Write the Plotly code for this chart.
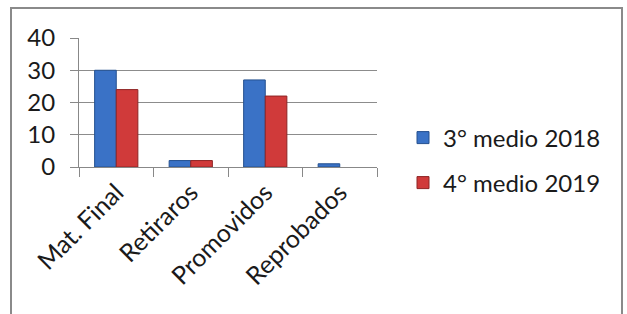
import plotly.graph_objects as go

categories = ["Mat. Final", "Retiraros", "Promovidos", "Reprobados"]
serie_2018 = [30, 2, 27, 1]
serie_2019 = [24, 2, 22, 0]
series_names = ["3° medio 2018", "4° medio 2019"]
y_ticks = [0, 10, 20, 30, 40]

W, H = 627, 314
ml, mr, mt, mb = 79, 250, 38, 147
pw, ph = W - ml - mr, H - mt - mb

def px_x(p):
    return (p - ml) / pw

def px_y(p):
    return (H - mb - p) / ph

FONT = "Lato, 'Open Sans', sans-serif"

def edge_widths(vals):
    return [1 if v > 0 else 0 for v in vals]

fig = go.Figure()
fig.add_trace(go.Bar(
    x=categories, y=serie_2018, name=series_names[0],
    marker=dict(color="#3A72C6", line=dict(color="#24508F", width=edge_widths(serie_2018))),
    legend="legend", showlegend=True,
))
fig.add_trace(go.Bar(
    x=categories, y=serie_2019, name=series_names[1],
    marker=dict(color="#D03A3A", line=dict(color="#8E2424", width=edge_widths(serie_2019))),
    legend="legend2", showlegend=True,
))

fig.update_layout(
    width=W, height=H,
    margin=dict(l=ml, r=mr, t=mt, b=mb, autoexpand=False),
    paper_bgcolor="white", plot_bgcolor="white",
    barmode="group", bargap=0.42, bargroupgap=0,
    font=dict(family=FONT, size=22, color="#1a1a1a"),
    legend=dict(x=px_x(403), y=px_y(138), xanchor="left", yanchor="middle",
                font=dict(size=24), bgcolor="rgba(0,0,0,0)"),
    legend2=dict(x=px_x(403), y=px_y(183), xanchor="left", yanchor="middle",
                 font=dict(size=24), bgcolor="rgba(0,0,0,0)"),
    xaxis=dict(
        type="category", tickangle=-45, tickson="boundaries",
        ticks="outside", ticklen=9, tickcolor="#888", tickwidth=1,
        showline=True, linecolor="#888", linewidth=1, automargin=False,
        showgrid=False, tickfont=dict(size=25),
    ),
    yaxis=dict(
        range=[0, 40], tickvals=y_ticks, ticks="outside", ticklen=8,
        tickcolor="#888", showline=True, linecolor="#888", linewidth=1,
        showgrid=True, gridcolor="#8c8c8c", gridwidth=1, automargin=False,
        zeroline=False, tickfont=dict(size=24), ticklabelstandoff=10,
    ),
    shapes=[dict(
        type="rect", xref="paper", yref="paper",
        x0=px_x(11), x1=px_x(622), y0=px_y(8), y1=px_y(330),
        line=dict(color="#8a8a8a", width=2), fillcolor="rgba(0,0,0,0)",
        layer="above",
    )],
)

fig.write_html(
    "out.html",
    config={"displayModeBar": False},
    post_script="document.body.style.margin='0px';document.body.style.padding='0px';",
)
